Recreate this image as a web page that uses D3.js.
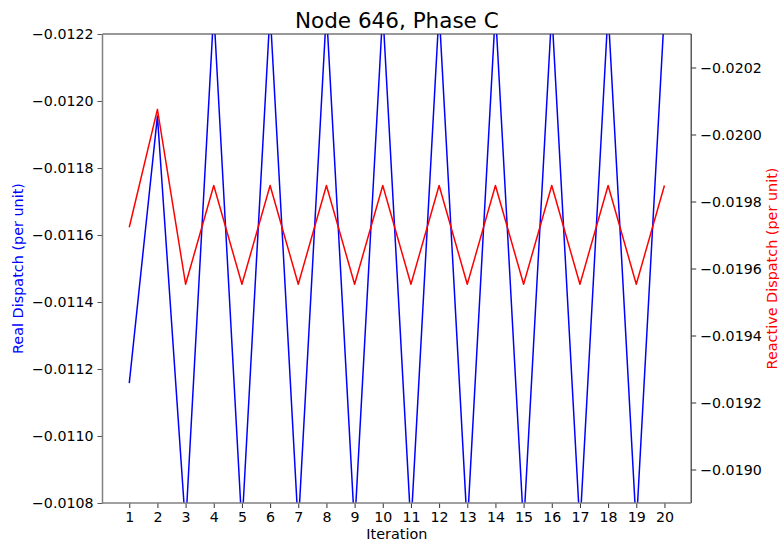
<!DOCTYPE html>
<html>
<head>
<meta charset="utf-8">
<script src="https://cdn.jsdelivr.net/npm/d3@7"></script>
<style>
  html, body { margin: 0; padding: 0; background: #ffffff; }
  svg { display: block; font-family: "DejaVu Sans", sans-serif; }
</style>
</head>
<body>
<svg id="chart" width="779" height="542"></svg>
<script>
// ---- data ----
const iterations = [1,2,3,4,5,6,7,8,9,10,11,12,13,14,15,16,17,18,19,20];
const realDispatch = [
  -0.011158, -0.011955, -0.010728, -0.012269, -0.010728, -0.012269,
  -0.010728, -0.012269, -0.010728, -0.012269, -0.010728, -0.012269,
  -0.010728, -0.012269, -0.010728, -0.012269, -0.010728, -0.012269,
  -0.010728, -0.012269
];
const reactiveDispatch = [
  -0.019723, -0.020075, -0.019553, -0.019848, -0.019553, -0.019848,
  -0.019553, -0.019848, -0.019553, -0.019848, -0.019553, -0.019848,
  -0.019553, -0.019848, -0.019553, -0.019848, -0.019553, -0.019848,
  -0.019553, -0.019848
];
const leftTicks = [-0.0122, -0.0120, -0.0118, -0.0116, -0.0114, -0.0112, -0.0110, -0.0108];
const rightTicks = [-0.0202, -0.0200, -0.0198, -0.0196, -0.0194, -0.0192, -0.0190];
const leftDomain = [-0.0122, -0.0108];
const rightDomain = [-0.02030, -0.01890];
const titleText = "Node 646, Phase C";
const xLabel = "Iteration";
const leftLabel = "Real Dispatch (per unit)";
const rightLabel = "Reactive Dispatch (per unit)";

// ---- layout ----
const plot = { left: 102.5, right: 691.2, top: 34, bottom: 503 };
const svg = d3.select("#chart");

const x = d3.scaleLinear().domain([0.05, 20.95]).range([plot.left, plot.right]);
const yL = d3.scaleLinear().domain(leftDomain).range([plot.top, plot.bottom]);
const yR = d3.scaleLinear().domain(rightDomain).range([plot.top, plot.bottom]);

svg.append("defs").append("clipPath").attr("id", "clip")
  .append("rect")
  .attr("x", plot.left).attr("y", plot.top)
  .attr("width", plot.right - plot.left).attr("height", plot.bottom - plot.top);

const fmt = d3.format(".4f");
const tickFont = 14.2;

// blue line
const lineL = d3.line().x((d, i) => x(iterations[i])).y(d => yL(d));
svg.append("path").datum(realDispatch)
  .attr("clip-path", "url(#clip)")
  .attr("d", lineL)
  .attr("fill", "none").attr("stroke", "#0000ff").attr("stroke-width", 1.5)
  .attr("stroke-linejoin", "round");

// red line (drawn on twin axis, on top)
const lineR = d3.line().x((d, i) => x(iterations[i])).y(d => yR(d));
svg.append("path").datum(reactiveDispatch)
  .attr("clip-path", "url(#clip)")
  .attr("d", lineR)
  .attr("fill", "none").attr("stroke", "#ff0000").attr("stroke-width", 1.5)
  .attr("stroke-linejoin", "round");

// bottom axis
const xAxis = d3.axisBottom(x).tickValues(iterations).tickFormat(d3.format("d"))
  .tickSize(5).tickPadding(4);
const gx = svg.append("g").attr("transform", `translate(0,${plot.bottom})`).call(xAxis);
gx.select(".domain").remove();
gx.selectAll(".tick line").attr("stroke", "#333").attr("stroke-width", 1);
gx.selectAll(".tick text").attr("font-size", tickFont).attr("fill", "#000")
  .attr("font-family", "DejaVu Sans, sans-serif");

// left axis
const yAxisL = d3.axisLeft(yL).tickValues(leftTicks).tickFormat(fmt).tickSize(5).tickPadding(4);
const gl = svg.append("g").attr("transform", `translate(${plot.left},0)`).call(yAxisL);
gl.select(".domain").remove();
gl.selectAll(".tick line").attr("stroke", "#555").attr("stroke-width", 1);
gl.selectAll(".tick text").attr("font-size", tickFont).attr("fill", "#000")
  .attr("font-family", "DejaVu Sans, sans-serif");

// right axis
const yAxisR = d3.axisRight(yR).tickValues(rightTicks).tickFormat(fmt).tickSize(5).tickPadding(4);
const gr = svg.append("g").attr("transform", `translate(${plot.right},0)`).call(yAxisR);
gr.select(".domain").remove();
gr.selectAll(".tick line").attr("stroke", "#333").attr("stroke-width", 1);
gr.selectAll(".tick text").attr("font-size", tickFont).attr("fill", "#000")
  .attr("font-family", "DejaVu Sans, sans-serif");

// spines
svg.append("line").attr("x1", plot.left).attr("x2", plot.right).attr("y1", plot.top).attr("y2", plot.top)
  .attr("stroke", "#333").attr("stroke-width", 1.2);
svg.append("line").attr("x1", plot.right).attr("x2", plot.right).attr("y1", plot.top).attr("y2", plot.bottom)
  .attr("stroke", "#333").attr("stroke-width", 1.2);
svg.append("line").attr("x1", plot.left).attr("x2", plot.right).attr("y1", plot.bottom).attr("y2", plot.bottom)
  .attr("stroke", "#808080").attr("stroke-width", 1.5);
svg.append("line").attr("x1", plot.left).attr("x2", plot.left).attr("y1", plot.top).attr("y2", plot.bottom + 0.75)
  .attr("stroke", "#808080").attr("stroke-width", 1.5);

// title
svg.append("text").attr("x", (plot.left + plot.right) / 2).attr("y", 28)
  .attr("text-anchor", "middle").attr("font-size", 21.5).attr("fill", "#000")
  .text(titleText);

// x label
svg.append("text").attr("x", (plot.left + plot.right) / 2).attr("y", 539)
  .attr("text-anchor", "middle").attr("font-size", 14.4).attr("fill", "#000")
  .text(xLabel);

// left y label
svg.append("text")
  .attr("transform", `translate(22.5,${(plot.top + plot.bottom) / 2}) rotate(-90)`)
  .attr("text-anchor", "middle").attr("font-size", 14.4).attr("fill", "#0000ff")
  .text(leftLabel);

// right y label
svg.append("text")
  .attr("transform", `translate(777,${(plot.top + plot.bottom) / 2}) rotate(-90)`)
  .attr("text-anchor", "middle").attr("font-size", 14.4).attr("fill", "#ff0000")
  .text(rightLabel);
</script>
</body>
</html>
